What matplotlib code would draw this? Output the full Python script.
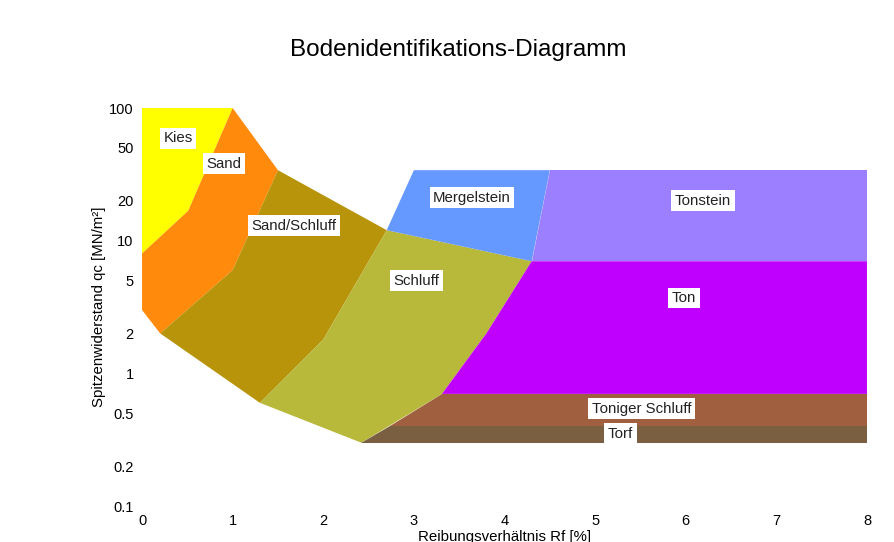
import numpy as np
import matplotlib.pyplot as plt
from matplotlib.patches import Polygon

plt.rcParams['font.family'] = ['Liberation Sans', 'DejaVu Sans']

# soil zones: (Rf [%], qc [MN/m2]) corner points
zone_names = ['Kies', 'Sand', 'Sand/Schluff', 'Schluff', 'Mergelstein',
              'Tonstein', 'Ton', 'Toniger Schluff', 'Torf']
zone_x = [
    [0, 1.0, 0.51, 0],
    [0, 0.51, 1.0, 1.5, 1.0, 0.2, 0],
    [1.5, 2.7, 2.0, 1.3, 0.2, 1.0],
    [2.7, 4.3, 3.8, 3.31, 2.42, 1.3, 2.0],
    [2.7, 3.0, 4.5, 4.3],
    [4.5, 8.0, 8.0, 4.3],
    [4.3, 8.0, 8.0, 3.31, 3.8],
    [3.31, 8.0, 8.0, 2.74],
    [2.74, 8.0, 8.0, 2.42],
]
zone_y = [
    [100, 100, 16.8, 8.0],
    [8.0, 16.8, 100, 34, 6.0, 2.0, 3.0],
    [34, 12, 1.8, 0.6, 2.0, 6.0],
    [12, 7, 2.0, 0.7, 0.3, 0.6, 1.8],
    [12, 34, 34, 7],
    [34, 34, 7, 7],
    [7, 7, 0.7, 0.7, 2.0],
    [0.7, 0.7, 0.4, 0.4],
    [0.4, 0.4, 0.3, 0.3],
]
zone_colors = ['#ffff00', '#ff8a0c', '#b8940a', '#b8b83a', '#6699ff',
               '#9c7fff', '#c000ff', '#a0603f', '#7a5f40']
label_x = [0.4, 0.9, 1.68, 3.03, 3.64, 6.19, 5.98, 5.51, 5.28]
label_y = [59, 38, 13, 5.0, 21, 20, 3.7, 0.54, 0.35]

fig = plt.figure(figsize=(8.95, 5.42), dpi=100)
ax = fig.add_axes([0.1587, 0.0664, 0.81, 0.7343])

for xs, ys, c in zip(zone_x, zone_y, zone_colors):
    ax.add_patch(Polygon(np.column_stack([xs, ys]), closed=True,
                         facecolor=c, edgecolor='none'))

for name, lx, ly in zip(zone_names, label_x, label_y):
    ax.text(lx, ly, name, ha='center', va='center', fontsize=10.8,
            color='#222222',
            bbox=dict(facecolor='white', edgecolor='none', pad=2.5))

ax.set_yscale('log')
ax.set_xlim(0, 8)
ax.set_ylim(0.1, 100)
yt = [0.1, 0.2, 0.5, 1, 2, 5, 10, 20, 50, 100]
ax.set_yticks(yt)
ax.set_yticklabels(['0.1', '0.2', '0.5', '1', '2', '5', '10', '20', '50', '100'])
ax.yaxis.set_minor_locator(plt.NullLocator())
ax.set_xticks(range(0, 9))
ax.tick_params(length=0, labelsize=10.5, pad=6)
for s in ax.spines.values():
    s.set_visible(False)

ax.set_xlabel('Reibungsverhältnis Rf [%]', fontsize=10.8, labelpad=1)
ax.set_ylabel('Spitzenwiderstand qc [MN/m²]', fontsize=10.8, labelpad=2)
fig.suptitle('Bodenidentifikations-Diagramm', x=0.512, y=0.928, fontsize=17.5)

fig.savefig('out.png', dpi=100)
